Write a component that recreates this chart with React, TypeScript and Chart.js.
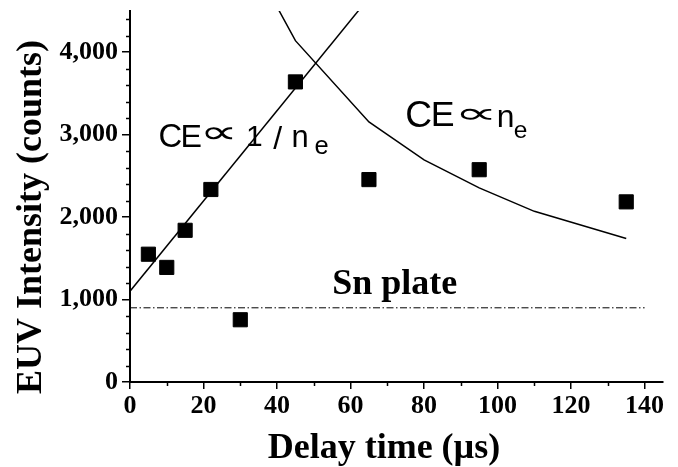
import React, { useEffect, useRef } from "react";
import { Chart, registerables } from "chart.js";

Chart.register(...registerables);

// Measured data (delay time in µs, EUV intensity in counts)
const delayTimes = [5, 10, 15, 22, 30, 45, 65, 95, 135];
const euvCounts = [1550, 1390, 1840, 2335, 755, 3640, 2455, 2575, 2185];

// Fitted curve CE ∝ 1/ne (straight line)
const inverseFitX = [0, 65];
const inverseFitY = [1100, 4660];

// Fitted curve CE ∝ ne
const directFitX = [40, 45, 65, 80, 95, 110, 135];
const directFitY = [4550, 4140, 3155, 2695, 2355, 2070, 1740];

// Sn plate reference level
const snPlateX = [0, 140];
const snPlateY = [900, 900];

// Axis settings / tick labels
const xMin = 0;
const xMax = 145;
const xMajorTicks = [0, 20, 40, 60, 80, 100, 120, 140];
const xMinorTicks = [10, 30, 50, 70, 90, 110, 130];
const yMin = 0;
const yMax = 4500;
const yMajorTicks = [0, 1000, 2000, 3000, 4000];
const yMinorTicks = [200, 400, 600, 800, 1200, 1400, 1600, 1800, 2200, 2400, 2600, 2800, 3200, 3400, 3600, 3800, 4200, 4400];

const xTitle = "Delay time (µs)";
const yTitle = "EUV Intensity (counts)";
const snLabel = "Sn plate";

const toXY = (xs: number[], ys: number[]) => xs.map((x, i) => ({ x, y: ys[i] }));

const SERIF = '"Liberation Serif", "Times New Roman", serif';
const SANS = '"Liberation Sans", Arial, sans-serif';
const SYM = '"DejaVu Sans", sans-serif';

// glyph boxes relative to an anchor: [text, x0, y0, x1, y1, fontFamily, stretch]
type Piece = [string, number, number, number, number, string, boolean];

const inversePieces: Piece[] = [
  ["C", 0, -23, 20, 0, SANS, false],
  ["E", 22.7, -22.5, 40, 0, SANS, false],
  ["∝", 45, -20, 73, -7, SYM, true],
  ["1", 88, -22, 105, -1, SANS, false],
  ["/", 113, -22, 128, 2, SANS, false],
  ["n", 133, -17, 153, 0, SANS, false],
  ["e", 155, -7, 166, 7, SANS, false],
];

const directPieces: Piece[] = [
  ["C", 0, -26, 22.3, 0, SANS, false],
  ["E", 26.3, -25.5, 45.3, -0.5, SANS, false],
  ["∝", 53.3, -18.5, 85.3, -6.7, SYM, true],
  ["n", 91.3, -17.5, 106.3, 0, SANS, false],
  ["e", 107.3, -2.5, 121.8, 11, SANS, false],
];

function drawFitted(ctx: CanvasRenderingContext2D, ax: number, ay: number, pieces: Piece[]) {
  for (const [t, x0, y0, x1, y1, fam, stretch] of pieces) {
    ctx.save();
    ctx.font = `40px ${fam}`;
    ctx.textAlign = "left";
    ctx.textBaseline = "alphabetic";
    const m = ctx.measureText(t);
    const w = m.actualBoundingBoxRight + m.actualBoundingBoxLeft;
    const h = m.actualBoundingBoxAscent + m.actualBoundingBoxDescent;
    const sy = (y1 - y0) / (h || 1);
    const sx = stretch ? (x1 - x0) / (w || 1) : sy;
    ctx.translate(ax + x0, ay + y0);
    ctx.scale(sx, sy);
    ctx.fillText(t, m.actualBoundingBoxLeft, m.actualBoundingBoxAscent);
    ctx.restore();
  }
}

const decorPlugin = {
  id: "decor",
  afterDraw(chart: any) {
    const ctx = chart.ctx as CanvasRenderingContext2D;
    const xs = chart.scales.x;
    const ys = chart.scales.y;
    const area = chart.chartArea;
    ctx.save();
    ctx.strokeStyle = "#000";
    ctx.fillStyle = "#000";
    ctx.lineWidth = 1.5;
    // minor ticks
    ctx.beginPath();
    for (const v of xMinorTicks) {
      const px = Math.round(xs.getPixelForValue(v)) + 0.5;
      ctx.moveTo(px, area.bottom);
      ctx.lineTo(px, area.bottom + 4);
    }
    for (const v of yMinorTicks) {
      const py = Math.round(ys.getPixelForValue(v)) + 0.5;
      ctx.moveTo(area.left, py);
      ctx.lineTo(area.left - 4, py);
    }
    ctx.stroke();

    // axis titles
    ctx.font = `bold 36px ${SERIF}`;
    ctx.textAlign = "center";
    ctx.textBaseline = "alphabetic";
    ctx.fillText(xTitle, area.left + 254, area.bottom + 76);
    ctx.save();
    ctx.translate(area.left - 89, area.top + 206);
    ctx.rotate(-Math.PI / 2);
    ctx.fillText(yTitle, 0, 0);
    ctx.restore();

    // Sn plate label
    ctx.textAlign = "left";
    ctx.fillText(snLabel, xs.getPixelForValue(55), ys.getPixelForValue(1069));

    // CE ∝ 1/ne and CE ∝ ne
    drawFitted(ctx, xs.getPixelForValue(8.2), ys.getPixelForValue(2855), inversePieces);
    drawFitted(ctx, xs.getPixelForValue(75.4), ys.getPixelForValue(3096), directPieces);
    ctx.restore();
  },
};

export default function App() {
  const canvasRef = useRef<HTMLCanvasElement | null>(null);

  useEffect(() => {
    const canvas = canvasRef.current;
    if (!canvas) return;
    const chart = new Chart(canvas, {
      type: "scatter",
      data: {
        datasets: [
          {
            label: "EUV",
            data: toXY(delayTimes, euvCounts),
            pointStyle: "rect",
            pointRadius: 10,
            backgroundColor: "#000",
            borderColor: "#000",
            borderWidth: 1,
            showLine: false,
            order: 0,
          },
          {
            label: "CE ∝ 1/ne",
            data: toXY(inverseFitX, inverseFitY),
            showLine: true,
            pointRadius: 0,
            borderColor: "#000",
            borderWidth: 1.5,
            order: 1,
          },
          {
            label: "CE ∝ ne",
            data: toXY(directFitX, directFitY),
            showLine: true,
            pointRadius: 0,
            borderColor: "#000",
            borderWidth: 1.5,
            order: 2,
          },
          {
            label: "Sn plate",
            data: toXY(snPlateX, snPlateY),
            showLine: true,
            pointRadius: 0,
            borderColor: "#000",
            borderWidth: 1,
            borderDash: [7, 2.5, 1.5, 2.5],
            order: 3,
          },
        ],
      },
      options: {
        animation: false,
        responsive: false,
        devicePixelRatio: 1,
        layout: { padding: { top: 9, right: 15, left: 0, bottom: 0 } },
        plugins: {
          legend: { display: false },
          tooltip: { enabled: false },
        },
        scales: {
          x: {
            type: "linear",
            min: xMin,
            max: xMax,
            afterBuildTicks: (scale: any) => {
              scale.ticks = xMajorTicks.map((value) => ({ value }));
            },
            afterFit: (scale: any) => {
              scale.height = 85;
              scale.paddingLeft = 0;
              scale.paddingRight = 0;
            },
            ticks: {
              color: "#000",
              padding: 2,
              maxRotation: 0,
              autoSkip: false,
              font: { family: SERIF, size: 26, weight: "bold" },
            },
            grid: {
              drawOnChartArea: false,
              drawTicks: true,
              tickLength: 7,
              color: "#000",
              lineWidth: 1.5,
            },
            border: { display: true, color: "#000", width: 2 },
          },
          y: {
            type: "linear",
            min: yMin,
            max: yMax,
            afterBuildTicks: (scale: any) => {
              scale.ticks = yMajorTicks.map((value) => ({ value }));
            },
            afterFit: (scale: any) => {
              scale.width = 130;
              scale.paddingTop = 0;
              scale.paddingBottom = 0;
            },
            ticks: {
              color: "#000",
              padding: 4,
              autoSkip: false,
              font: { family: SERIF, size: 26, weight: "bold" },
              callback: (v: any) => Number(v).toLocaleString("en-US"),
            },
            grid: {
              drawOnChartArea: false,
              drawTicks: true,
              tickLength: 8,
              color: "#000",
              lineWidth: 1.5,
            },
            border: { display: true, color: "#000", width: 2 },
          },
        },
      },
      plugins: [decorPlugin],
    });
    return () => chart.destroy();
  }, []);

  return (
    <div style={{ position: "fixed", left: 0, top: 0, width: 678, height: 467, background: "#fff" }}>
      <canvas ref={canvasRef} width={678} height={467} style={{ display: "block", width: 678, height: 467 }} />
    </div>
  );
}
